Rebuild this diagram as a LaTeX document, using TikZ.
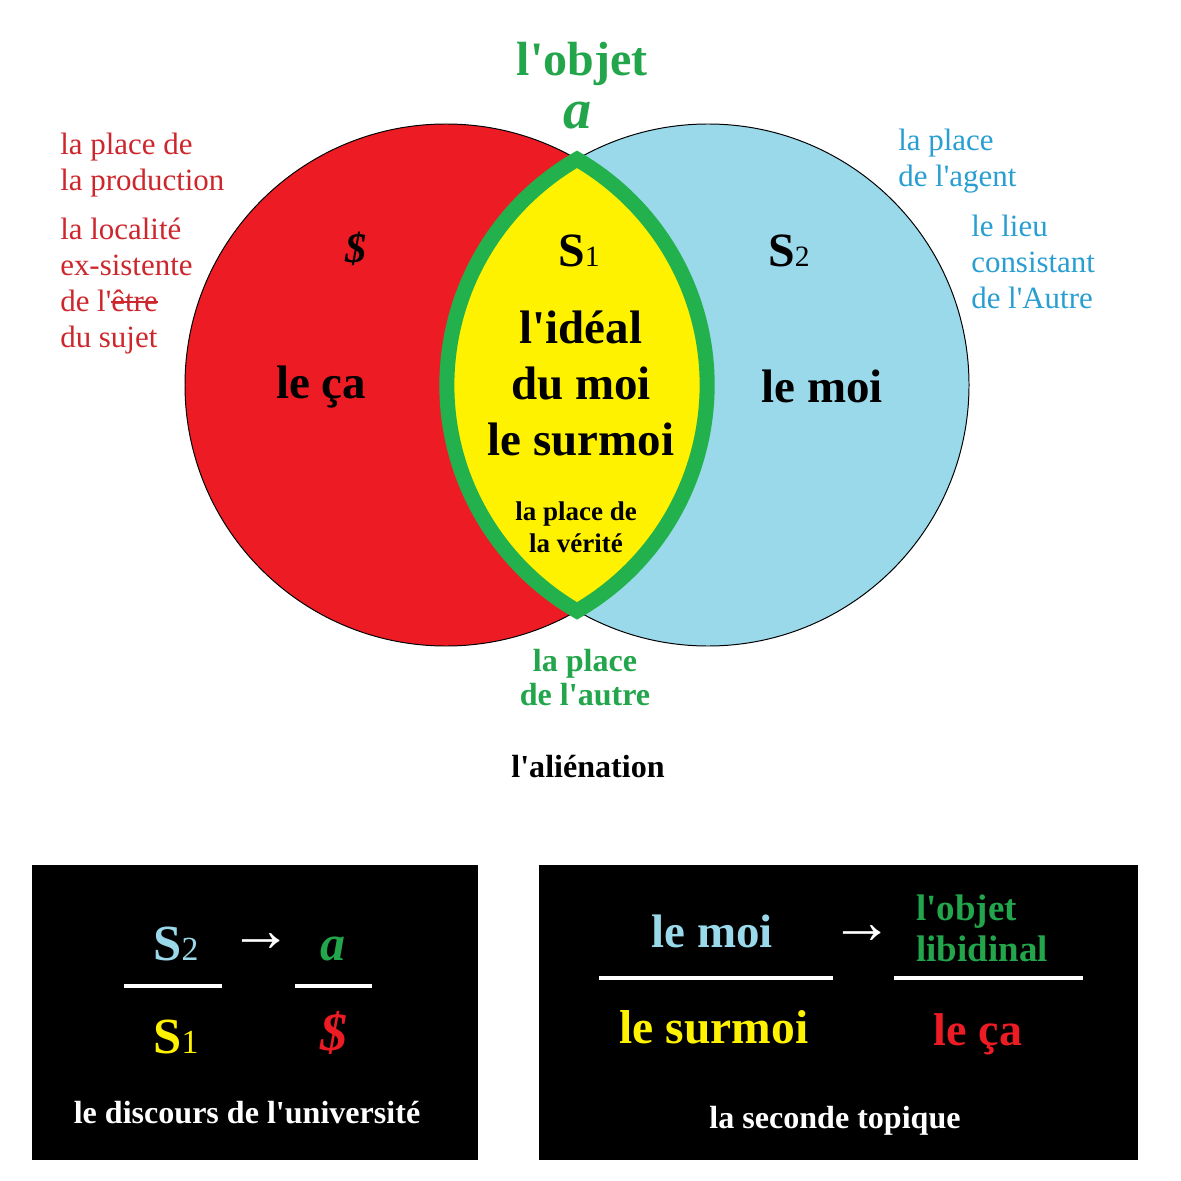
\documentclass[tikz,border=0pt]{standalone}
\usepackage{fontspec}
\newfontfamily\timesfont{Liberation Serif}

\definecolor{pred}{RGB}{237,28,36}
\definecolor{pblue}{RGB}{153,217,234}
\definecolor{pyellow}{RGB}{255,242,0}
\definecolor{pgreen}{RGB}{34,177,76}
\definecolor{tred}{RGB}{205,38,44}
\definecolor{tblue}{RGB}{40,158,210}
\definecolor{tgreen}{RGB}{34,165,75}

\newcommand{\fs}[2]{\fontsize{#1}{#2}\selectfont}
\newcommand{\idx}[2]{{\mdseries\fs{#1}{#1}#2}}
\newsavebox\strikebox
\newcommand{\strike}[1]{\sbox\strikebox{#1}\rlap{\usebox\strikebox}\rule[0.28em]{\wd\strikebox}{1.2pt}}

\begin{document}
\begin{tikzpicture}[
    x=0.025cm, y=-0.025cm,
    every node/.style={inner sep=0pt},
    circ/.style={draw=black, line width=0.7pt},
    lens/.style={fill=pyellow, draw=pgreen, line width=10.7pt, line join=miter},
    side/.style={font=\timesfont\fs{22}{25.6}, align=left, anchor=west},
    big/.style={font=\timesfont\bfseries\fs{33.4}{39.5}, align=center},
    symb/.style={font=\timesfont\bfseries\fs{34}{38}, anchor=base},
    bigsymb/.style={font=\timesfont\bfseries\fs{36}{40}, anchor=base},
    arrowtxt/.style={font=\timesfont\fs{45}{48}, text=white},
    bar/.style={draw=white, line width=2.4pt},
    wlab/.style={font=\timesfont\bfseries\fs{22.8}{27}, text=white, anchor=base}
]
\path[use as bounding box, fill=white] (0,0) rectangle (1181,1181);

% Circles and lens
\draw[circ, fill=pred] (446,385) circle (261);
\draw[circ, fill=pblue] (708,385) circle (261);
\draw[lens] (577,159.3) arc[start angle=239.9, end angle=120.1, radius=261]
    arc[start angle=59.9, end angle=-59.9, radius=261] -- cycle;

% Side labels
\node[side, text=tred] (prod) at (60,165) {la place de\\la production};
\node[side, text=tred] (local) at (60,286) {la localité\\ex-sistente\\de l'\strike{être}\\du sujet};
\node[side, text=tblue] (agent) at (898,161) {la place\\de l'agent};
\node[side, text=tblue] (lieu) at (971,262) {le lieu\\consistant\\de l'Autre};

\node[font=\timesfont\bfseries\fs{34.1}{40}, text=tgreen, anchor=base] (objet) at (582,76) {l'objet};
\node[font=\timesfont\bfseries\itshape\fs{40}{46}, text=tgreen, anchor=base] (pa) at (578,129) {a};

% Inside the circles
\node[font=\timesfont\bfseries\itshape\fs{30}{34}, anchor=base] (barS) at (356,263) {\$};
\node[symb] (sone) at (579,267) {S\idx{21}{1}};
\node[symb] (stwo) at (789,267) {S\idx{21}{2}};
\node[big, anchor=base] (ca) at (321,398) {le ça};
\node[big] (ideal) at (581,383.5) {l'idéal\\du moi\\le surmoi};
\node[big, anchor=base] (moi) at (822,402) {le moi};
\node[font=\timesfont\bfseries\fs{19.2}{22.8}, align=center] (verite) at (576,527) {la place de\\la vérité};

\node[font=\timesfont\bfseries\fs{22.8}{24.2}, text=tgreen, align=center] (lautre) at (585,677.5) {la place\\de l'autre};
\node[font=\timesfont\bfseries\fs{22.8}{27}, anchor=base] (alien) at (588,777) {l'aliénation};

% Discourse of the university
\fill[black] (32,865) rectangle (478,1160);
\node[bigsymb, text=pblue] (ustwo) at (176,960) {S\idx{24}{2}};
\node[arrowtxt] (uarr) at (261,943) {→};
\node[font=\timesfont\bfseries\itshape\fs{35.6}{40}, text=tgreen, anchor=base] (ua) at (333,960) {a};
\draw[bar] (124,986) -- (222,986);
\draw[bar] (295,986) -- (372,986);
\node[bigsymb, text=pyellow] (usone) at (176,1053) {S\idx{24}{1}};
\node[font=\timesfont\bfseries\itshape\fs{38.4}{44}, text=pred, anchor=base] (ubarS) at (334,1050) {\$};
\node[wlab] (univ) at (247,1123) {le discours de l'université};

% Second topography
\fill[black] (539,865) rectangle (1138,1160);
\node[font=\timesfont\bfseries\fs{33.4}{40}, text=pblue, anchor=base] (tmoi) at (712,947) {le moi};
\node[arrowtxt] (tarr) at (862,935) {→};
\node[font=\timesfont\bfseries\fs{26.3}{29.2}, text=tgreen, align=left, anchor=west] (tobjet) at (916,928) {l'objet\\libidinal};
\draw[bar] (599,978) -- (833,978);
\draw[bar] (894,978) -- (1083,978);
\node[font=\timesfont\bfseries\fs{33.8}{40}, text=pyellow, anchor=base] (tsurmoi) at (714,1043) {le surmoi};
\node[font=\timesfont\bfseries\fs{32.7}{40}, text=pred, anchor=base] (tca) at (978,1045) {le ça};
\node[wlab] (topique) at (835,1128) {la seconde topique};

\end{tikzpicture}
\end{document}
